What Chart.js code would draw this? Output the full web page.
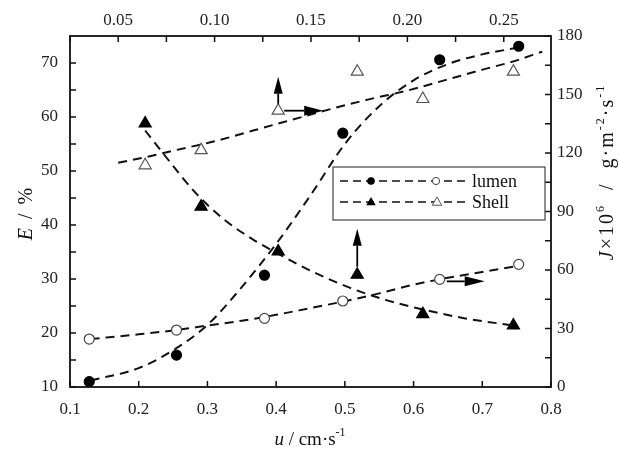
<!DOCTYPE html>
<html><head><meta charset="utf-8">
<script src="https://cdn.jsdelivr.net/npm/chart.js@4.4.0/dist/chart.umd.min.js"></script>
<style>html,body{margin:0;padding:0;background:#fff;}#wrap{width:619px;height:450px;}</style>
</head><body><div id="wrap"><canvas id="c" width="619" height="450"></canvas></div>
<script>
// ---- data (bottom axis u, left axis E, top axis u', right axis J) ----
const uLumen = [0.128, 0.255, 0.383, 0.497, 0.638, 0.753];
const eLumen = [11.0, 15.9, 30.7, 57.0, 70.6, 73.1];
const jLumen = [24.6, 29.2, 35.2, 44.1, 55.2, 62.9];
const uShell = [0.064, 0.093, 0.133, 0.174, 0.208, 0.255];
const eShell = [58.8, 43.4, 35.1, 30.8, 23.5, 21.4];
const jShell = [113.7, 121.5, 141.7, 161.7, 147.7, 161.7];

const fitLumenEu = [0.13,0.2,0.25,0.3,0.35,0.4,0.45,0.5,0.55,0.6,0.65,0.7,0.75];
const fitLumenE  = [11.2,13.5,16.8,21.5,28.5,36.5,45.5,55,62,66.8,69.8,71.6,72.8];
const fitLumenJu = [0.13,0.2,0.25,0.3,0.35,0.4,0.45,0.5,0.55,0.6,0.65,0.7,0.75];
const fitLumenJ  = [24.6,27,29,31.5,34,37,40.5,44,48,52.5,56,59,62];
const fitShellEu = [0.064,0.075,0.09,0.105,0.12,0.135,0.15,0.17,0.19,0.21,0.23,0.255];
const fitShellE  = [57.5,52.5,46,41,37.3,34.3,31.5,28.4,26,24.2,22.7,21.4];
const fitShellJu = [0.05,0.065,0.08,0.1,0.12,0.14,0.16,0.18,0.2,0.22,0.24,0.255,0.27];
const fitShellJ  = [115,118,121.5,126,131.5,137,142.5,147.5,152,157.5,163,167,172];

const xTicks  = [0.1,0.2,0.3,0.4,0.5,0.6,0.7,0.8];
const x2Ticks = [0.05,0.10,0.15,0.20,0.25];
const x2Minor = [0.025,0.05,0.075,0.10,0.125,0.15,0.175,0.20,0.225,0.25];
const yTicks  = [10,20,30,40,50,60,70];
const yMinor  = [10,15,20,25,30,35,40,45,50,55,60,65,70];
const y2Ticks = [0,30,60,90,120,150,180];
const y2Minor = [0,15,30,45,60,75,90,105,120,135,150,165,180];

const pts = (xs, ys) => xs.map((x, i) => ({x, y: ys[i]}));
const SERIF = "'Liberation Serif','Times New Roman',serif";
const DASH = [9, 6];

function curve(data, xID, yID) {
  return {data, xAxisID: xID, yAxisID: yID, showLine: true, pointRadius: 0,
    borderColor: '#111', borderWidth: 2, borderDash: DASH, cubicInterpolationMode: 'monotone', order: 2};
}
function marks(data, xID, yID, style, fill, stroke, r) {
  return {data, xAxisID: xID, yAxisID: yID, showLine: false, pointStyle: style,
    pointRadius: r, pointHoverRadius: r, backgroundColor: fill, borderColor: stroke, borderWidth: 1.2, order: 0};
}

function fixSize(prop, v) { return s => { s[prop] = v; }; }
function setTicks(arr) { return s => { s.ticks = arr.map(v => ({value: v})); }; }

const tickFont = {family: SERIF, size: 17};

function drawArrow(ctx, x1, y1, x2, y2, hl, hw) {
  const a = Math.atan2(y2 - y1, x2 - x1);
  const bx = x2 - hl * Math.cos(a), by = y2 - hl * Math.sin(a);
  ctx.beginPath(); ctx.moveTo(x1, y1); ctx.lineTo(bx, by); ctx.lineWidth = 1.8; ctx.strokeStyle = '#000'; ctx.stroke();
  ctx.beginPath(); ctx.moveTo(x2, y2);
  ctx.lineTo(bx + hw * Math.sin(a), by - hw * Math.cos(a));
  ctx.lineTo(bx - hw * Math.sin(a), by + hw * Math.cos(a));
  ctx.closePath(); ctx.fillStyle = '#000'; ctx.fill();
}

function drawRich(ctx, segs, x, y, size, spacing) {
  const supSize = Math.round(size * 0.62);
  const fontOf = s => (s.it ? 'italic ' : '') + (s.sup ? supSize : size) + 'px ' + SERIF;
  ctx.letterSpacing = (spacing || 0) + 'px';
  let w = 0;
  segs.forEach(s => { ctx.font = fontOf(s); w += ctx.measureText(s.t).width; });
  let cx = x - w / 2;
  ctx.textAlign = 'left'; ctx.textBaseline = 'alphabetic'; ctx.fillStyle = '#111';
  segs.forEach(s => {
    ctx.font = fontOf(s);
    ctx.fillText(s.t, cx, s.sup ? y - size * 0.45 : y);
    cx += ctx.measureText(s.t).width;
  });
  ctx.letterSpacing = '0px';
}

function tri(ctx, x, y, r, fill, stroke) {
  ctx.beginPath();
  ctx.moveTo(x, y - r); ctx.lineTo(x - r * 0.95, y + r * 0.65); ctx.lineTo(x + r * 0.95, y + r * 0.65); ctx.closePath();
  if (fill) { ctx.fillStyle = fill; ctx.fill(); }
  if (stroke) { ctx.strokeStyle = stroke; ctx.lineWidth = 1; ctx.stroke(); }
}

const deco = {
  id: 'deco',
  afterDraw(chart) {
    const {ctx, chartArea: ca, scales} = chart;
    ctx.save();
    // frame
    ctx.strokeStyle = '#111'; ctx.lineWidth = 1.8;
    ctx.strokeRect(ca.left, ca.top, ca.right - ca.left, ca.bottom - ca.top);
    // inward ticks
    ctx.lineWidth = 1.5; ctx.beginPath();
    xTicks.forEach(v => { const p = scales.x.getPixelForValue(v); ctx.moveTo(p, ca.bottom); ctx.lineTo(p, ca.bottom - 6); });
    x2Minor.forEach(v => { const p = scales.x2.getPixelForValue(v); ctx.moveTo(p, ca.top); ctx.lineTo(p, ca.top + 6); });
    yMinor.forEach(v => { const p = scales.y.getPixelForValue(v); ctx.moveTo(ca.left, p); ctx.lineTo(ca.left + 6, p); });
    y2Minor.forEach(v => { const p = scales.y2.getPixelForValue(v); ctx.moveTo(ca.right, p); ctx.lineTo(ca.right - 6, p); });
    ctx.stroke();

    // arrows anchored to data points
    const sx = scales.x, sx2 = scales.x2, sy = scales.y, sy2 = scales.y2;
    let px = sx2.getPixelForValue(uShell[2]), py = sy2.getPixelForValue(jShell[2]);
    drawArrow(ctx, px, py - 7, px, py - 34, 17, 4.5);
    drawArrow(ctx, px + 6, py, px + 45, py, 19, 5);
    px = sx2.getPixelForValue(uShell[3]); py = sy.getPixelForValue(eShell[3]);
    drawArrow(ctx, px, py - 8, px, py - 46, 17, 4.5);
    px = sx.getPixelForValue(uLumen[4]); py = sy2.getPixelForValue(jLumen[4]);
    drawArrow(ctx, px + 7, py + 2, px + 45, py + 2, 20, 5);

    // legend
    const lx = 333, ly = 167, lw = 212, lh = 53;
    ctx.fillStyle = '#fff'; ctx.fillRect(lx, ly, lw, lh);
    ctx.strokeStyle = '#444'; ctx.lineWidth = 1.2; ctx.strokeRect(lx, ly, lw, lh);
    const rows = [{y: 181, label: 'lumen'}, {y: 202, label: 'Shell'}];
    rows.forEach((r, i) => {
      ctx.setLineDash([8, 5]); ctx.strokeStyle = '#111'; ctx.lineWidth = 1.6;
      ctx.beginPath(); ctx.moveTo(340, r.y); ctx.lineTo(468, r.y); ctx.stroke();
      ctx.setLineDash([]);
      if (i === 0) {
        ctx.beginPath(); ctx.arc(371, r.y, 3.8, 0, Math.PI * 2); ctx.fillStyle = '#000'; ctx.fill();
        ctx.beginPath(); ctx.arc(436, r.y, 3.6, 0, Math.PI * 2); ctx.fillStyle = '#fff'; ctx.fill();
        ctx.strokeStyle = '#444'; ctx.lineWidth = 1; ctx.stroke();
      } else {
        tri(ctx, 371, r.y, 5, '#000', null);
        tri(ctx, 437, r.y, 5, '#fff', '#555');
      }
      ctx.font = '18px ' + SERIF; ctx.fillStyle = '#111'; ctx.textAlign = 'left'; ctx.textBaseline = 'middle';
      ctx.fillText(r.label, 472, r.y + 1);
    });

    // axis titles
    drawRich(ctx, [{t: 'u', it: true}, {t: ' / cm·s'}, {t: '-1', sup: true}], 310, 445, 19, 0);
    ctx.save(); ctx.translate(32, 213); ctx.rotate(-Math.PI / 2);
    drawRich(ctx, [{t: 'E', it: true}, {t: ' / %'}], 0, 0, 20, 2);
    ctx.restore();
    ctx.save(); ctx.translate(613, 172); ctx.rotate(-Math.PI / 2);
    drawRich(ctx, [{t: 'J', it: true}, {t: '×10'}, {t: '6', sup: true}, {t: '  /  g·m'}, {t: '-2', sup: true}, {t: '·s'}, {t: '-1', sup: true}], 0, 0, 20, 2);
    ctx.restore();
    ctx.restore();
  }
};

new Chart(document.getElementById('c'), {
  type: 'scatter',
  data: {datasets: [
    marks(pts(uLumen, eLumen), 'x', 'y', 'circle', '#000', '#000', 5),
    marks(pts(uLumen, jLumen), 'x', 'y2', 'circle', '#fff', '#444', 5),
    marks(pts(uShell, eShell), 'x2', 'y', 'triangle', '#000', '#000', 7),
    marks(pts(uShell, jShell), 'x2', 'y2', 'triangle', '#fff', '#555', 7),
    curve(pts(fitLumenEu, fitLumenE), 'x', 'y'),
    curve(pts(fitLumenJu, fitLumenJ), 'x', 'y2'),
    curve(pts(fitShellEu, fitShellE), 'x2', 'y'),
    curve(pts(fitShellJu, fitShellJ), 'x2', 'y2')
  ]},
  options: {
    responsive: false, animation: false, devicePixelRatio: 1,
    layout: {padding: 0},
    plugins: {legend: {display: false}, tooltip: {enabled: false}},
    scales: {
      x: {type: 'linear', position: 'bottom', min: 0.1, max: 0.8,
        grid: {display: false, drawTicks: false}, border: {display: false},
        afterBuildTicks: setTicks(xTicks), afterFit: fixSize('height', 63),
        ticks: {font: tickFont, color: '#222', padding: 12, maxRotation: 0, callback: v => v.toFixed(1)}},
      x2: {type: 'linear', position: 'top', min: 0.025, max: 0.2745,
        grid: {display: false, drawTicks: false}, border: {display: false},
        afterBuildTicks: setTicks(x2Ticks), afterFit: fixSize('height', 36),
        ticks: {font: tickFont, color: '#222', padding: 5, maxRotation: 0, callback: v => v.toFixed(2)}},
      y: {type: 'linear', position: 'left', min: 10, max: 75,
        grid: {display: false, drawTicks: false}, border: {display: false},
        afterBuildTicks: setTicks(yTicks), afterFit: fixSize('width', 70),
        ticks: {font: tickFont, color: '#222', padding: 12, callback: v => String(v)}},
      y2: {type: 'linear', position: 'right', min: 0, max: 180,
        grid: {display: false, drawTicks: false}, border: {display: false},
        afterBuildTicks: setTicks(y2Ticks), afterFit: fixSize('width', 68),
        ticks: {font: tickFont, color: '#222', padding: 6, callback: v => String(v)}}
    }
  },
  plugins: [deco]
});
</script></body></html>
